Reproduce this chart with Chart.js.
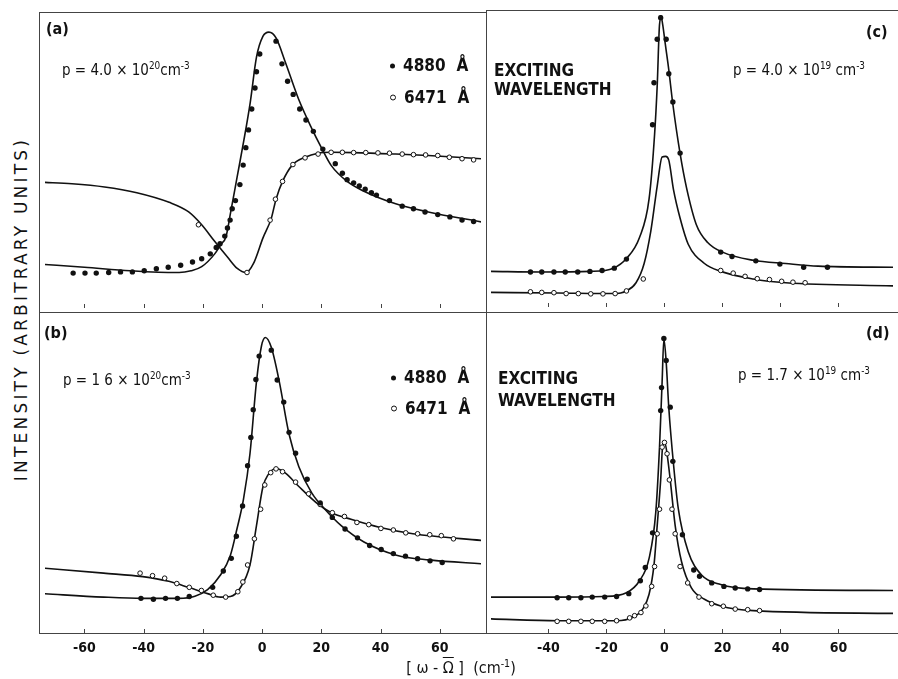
<!DOCTYPE html>
<html>
<head>
<meta charset="utf-8">
<script src="https://cdn.jsdelivr.net/npm/chart.js@4.4.1/dist/chart.umd.min.js"></script>
<style>
  body { margin: 0; background: #fff; }
  #fig { position: relative; width: 898px; height: 679px; overflow: hidden; background: #fff;
         font-family: "DejaVu Sans Condensed", "DejaVu Sans", sans-serif; color: #111; }
  #fig canvas { position: absolute; }
  .txt { position: absolute; white-space: nowrap; line-height: 1; transform: translateY(-50%); }
  .b { font-weight: bold; }
  .ln { position: absolute; background: #444; }
  sup { font-size: 0.66em; vertical-align: 0.55em; line-height: 0; }
  .dot { display: inline-block; width: 5px; height: 5px; border-radius: 50%; background: #111; vertical-align: middle; margin-right: 8px; }
  .odot { display: inline-block; width: 4px; height: 4px; border-radius: 50%; border: 1px solid #111; background: #fff; vertical-align: middle; margin-right: 8px; }
  .ang { margin-left: 11px; }
</style>
</head>
<body>
<div id="fig">
  <canvas id="chartA" width="446" height="301" style="left:40px;top:12px"></canvas>
  <canvas id="chartC" width="412" height="302" style="left:486px;top:10px"></canvas>
  <canvas id="chartB" width="446" height="365" style="left:40px;top:313px"></canvas>
  <canvas id="chartD" width="412" height="365" style="left:486px;top:313px"></canvas>

  <!-- panel frame -->
  <div class="ln" style="left:39px;top:12px;width:1px;height:622px"></div>
  <div class="ln" style="left:40px;top:12px;width:446px;height:1px"></div>
  <div class="ln" style="left:486px;top:10px;width:412px;height:1px"></div>
  <div class="ln" style="left:486px;top:10px;width:1px;height:624px"></div>
  <div class="ln" style="left:40px;top:312px;width:858px;height:1px"></div>
  <div class="ln" style="left:40px;top:633px;width:858px;height:1px"></div>

  <!-- panel (a) -->
  <div class="txt b" style="left:46px;top:29px;font-size:16px">(a)</div>
  <div class="txt" style="left:62px;top:70px;font-size:15px">p = 4.0 × 10<sup>20</sup>cm<sup>-3</sup></div>
  <div class="txt b" style="left:390px;top:65px;font-size:17px"><span class="dot"></span>4880<span class="ang">Å</span></div>
  <div class="txt b" style="left:390px;top:97px;font-size:17px"><span class="odot"></span>6471<span class="ang">Å</span></div>

  <!-- panel (b) -->
  <div class="txt b" style="left:44px;top:333px;font-size:16px">(b)</div>
  <div class="txt" style="left:63px;top:380px;font-size:15px">p = 1 6 × 10<sup>20</sup>cm<sup>-3</sup></div>
  <div class="txt b" style="left:391px;top:377px;font-size:17px"><span class="dot"></span>4880<span class="ang">Å</span></div>
  <div class="txt b" style="left:391px;top:408px;font-size:17px"><span class="odot"></span>6471<span class="ang">Å</span></div>

  <!-- panel (c) -->
  <div class="txt b" style="left:866px;top:32px;font-size:16px">(c)</div>
  <div class="txt" style="left:733px;top:70px;font-size:15px">p = 4.0 × 10<sup>19</sup> cm<sup>-3</sup></div>
  <div class="txt b" style="left:494px;top:70px;font-size:17px">EXCITING</div>
  <div class="txt b" style="left:494px;top:89px;font-size:17px">WAVELENGTH</div>

  <!-- panel (d) -->
  <div class="txt b" style="left:866px;top:333px;font-size:16px">(d)</div>
  <div class="txt" style="left:738px;top:375px;font-size:15px">p = 1.7 × 10<sup>19</sup> cm<sup>-3</sup></div>
  <div class="txt b" style="left:498px;top:378px;font-size:17px">EXCITING</div>
  <div class="txt b" style="left:498px;top:400px;font-size:17px">WAVELENGTH</div>

  <!-- axis titles -->
  <div class="txt" style="left:461px;top:668px;font-size:16px;transform:translate(-50%,-50%)">[ ω - <span style="text-decoration:overline">Ω</span> ]&nbsp; (cm<sup>-1</sup>)</div>
  <div class="txt" style="left:21px;top:309px;font-size:17px;font-family:'DejaVu Sans',sans-serif;letter-spacing:3.2px;transform:translate(-50%,-50%) rotate(-90deg)">INTENSITY (ARBITRARY UNITS)</div>
</div>

<script>
// x ticks for the two columns
const leftTicks = [-60, -40, -20, 0, 20, 40, 60];
const rightTicks = [-40, -20, 0, 20, 40, 60];

// ---- panel (a): p = 4.0e20 ----
const aCurve4880 = [[-74,15.0],[-60,14.0],[-44.5,12.8],[-35,12.3],[-28,12.2],[-24,12.8],[-20.4,14.2],[-16,18.6],[-13.9,21.9],[-12.2,24.5],[-10.6,33],[-8.4,45.2],[-6.2,57.4],[-4,70.7],[-1.9,86.2],[0.3,93.4],[2.3,94.8],[4.7,92.8],[8,84],[12.3,71.8],[16.7,61.8],[20,55.1],[23.3,49],[28.7,43.5],[34.2,40.2],[45.1,35.8],[56.1,33],[75,29.4]];
const aDots4880 = [[-63.8,12.0],[-59.8,12.0],[-56.0,12.0],[-51.8,12.2],[-47.8,12.4],[-43.8,12.4],[-39.8,12.8],[-35.7,13.5],[-31.7,14.0],[-27.5,14.7],[-23.5,15.8],[-20.4,16.9],[-17.5,18.6],[-15.5,20.8],[-14.2,22.1],[-12.6,24.7],[-11.7,27.5],[-10.8,30.2],[-10.1,34.1],[-9.0,36.9],[-7.5,42.4],[-6.4,49.1],[-5.5,55.1],[-4.6,61.2],[-3.5,68.4],[-2.4,75.6],[-1.9,81.2],[-0.8,87.3],[4.7,91.7],[6.7,83.9],[8.6,77.9],[10.5,73.4],[12.7,68.4],[14.8,64.6],[17.3,60.7],[20.5,54.6],[24.7,49.6],[27.1,46.3],[28.7,44.1],[30.9,43.0],[32.8,41.9],[34.8,40.8],[36.9,39.6],[38.6,38.8],[43.0,36.9],[47.3,35.0],[51.1,34.1],[55.0,33.0],[59.3,32.1],[63.4,31.3],[67.5,30.2],[71.4,29.7]];
const aCurve6471 = [[-74,43.2],[-64.2,42.7],[-53.2,41.6],[-42.3,39.6],[-31.4,36.3],[-24.8,33.0],[-20.4,28.6],[-16.1,23.0],[-11.7,17.5],[-8.4,13.6],[-5.4,12.2],[-2.9,15.3],[0.3,24.1],[3.1,30.8],[4.7,37.4],[6.9,43.5],[10.2,49.1],[14.5,51.8],[18.9,53.2],[23.3,53.5],[30.9,53.4],[45.1,52.9],[56.1,52.4],[75,51.2]];
const aDots6471 = [[-21.5,28.6],[-5.1,12.2],[2.7,30.2],[4.5,37.4],[6.9,43.5],[10.4,49.3],[14.5,51.6],[18.9,52.9],[23.3,53.5],[27.1,53.5],[30.9,53.4],[35.0,53.4],[39.1,53.3],[43.0,53.2],[47.3,52.9],[51.1,52.7],[55.2,52.6],[59.3,52.4],[63.2,51.8],[67.5,51.3],[71.4,50.9]];

// ---- panel (b): p = 1.6e20 ----
const bCurve4880 = [[-74,12.5],[-53.5,11.4],[-40.3,11.0],[-28.2,11.0],[-22.7,11.7],[-18.4,13.8],[-14.0,18.5],[-10.7,24.7],[-8.5,33.0],[-6.3,42.4],[-4.1,56.9],[-1.9,79.8],[-0.2,91.2],[1.1,93.8],[3.1,90.7],[5.8,79.8],[9.1,63.1],[12.4,52.8],[16.8,44.4],[21.2,39.3],[26.7,34.1],[34.4,28.9],[45.4,24.7],[56.4,23.2],[75,21.9]];
const bDots4880 = [[-40.9,11.0],[-36.7,10.7],[-32.6,11.0],[-28.6,11.0],[-24.6,11.6],[-16.7,14.5],[-13.1,19.7],[-10.4,23.7],[-8.7,30.7],[-6.6,40.3],[-4.9,53.1],[-3.8,62.1],[-3.0,70.9],[-2.1,80.5],[-1.0,87.9],[3.1,89.8],[5.1,80.3],[7.3,73.3],[9.1,63.7],[11.3,57.1],[15.2,48.8],[19.6,41.3],[23.7,36.7],[28.0,33.0],[32.2,30.2],[36.3,27.8],[40.2,26.5],[44.3,25.2],[48.4,24.4],[52.5,23.6],[56.7,22.9],[60.8,22.4]];
const bCurve6471 = [[-74,20.6],[-53.5,19.0],[-40.3,17.9],[-31.5,16.4],[-24.9,14.5],[-18.4,12.5],[-14.0,11.4],[-10.7,11.6],[-7.4,14.3],[-4.1,21.6],[-1.9,34.1],[0.3,46.5],[2.0,50.2],[4.7,52.2],[8.0,50.7],[12.4,46.5],[19.0,40.8],[23.4,38.2],[30.0,36.1],[39.9,33.5],[50.9,31.5],[75,29.3]];
const bDots6471 = [[-41.2,19.0],[-37.0,18.2],[-32.9,17.4],[-28.8,15.7],[-24.6,14.5],[-20.5,13.5],[-16.5,12.0],[-12.3,11.4],[-8.2,13.1],[-6.5,16.2],[-4.9,21.6],[-2.6,29.9],[-0.5,39.3],[0.9,47.0],[2.9,50.9],[4.7,52.1],[6.9,51.2],[11.3,47.9],[15.7,44.2],[19.6,40.8],[23.7,38.2],[27.8,37.0],[32.0,35.1],[36.0,34.4],[40.1,33.2],[44.3,32.7],[48.5,31.8],[52.5,31.5],[56.6,31.2],[60.5,30.9],[64.6,29.9]];

// ---- panel (c): p = 4.0e19 ----
const cCurve4880 = [[-60,12.2],[-42.3,12.0],[-25.4,12.2],[-17.6,13.3],[-13.1,16.6],[-8.6,23.8],[-5.3,37.0],[-3.4,59.1],[-2.5,75.7],[-1.7,96.7],[-1.1,99.1],[-0.6,96.7],[0.3,90],[1.5,81.2],[2.8,70.2],[5.4,52.5],[7.6,40.9],[11.0,28.2],[14.9,22.1],[20.0,18.8],[30.6,16.0],[41.8,14.9],[53.0,14.0],[80,13.6]];
const cDots4880 = [[-46.2,12.0],[-42.3,12.0],[-38.1,12.0],[-34.2,12.0],[-29.9,12.0],[-25.7,12.2],[-21.5,12.5],[-17.3,13.3],[-13.1,16.4],[-4.1,62.4],[-3.6,76.8],[-2.5,91.7],[-1.3,99.1],[0.6,91.7],[1.5,79.9],[2.9,70.2],[5.4,52.7],[19.4,18.8],[23.3,17.3],[31.5,15.8],[39.8,14.7],[48.0,13.6],[56.2,13.6]];
const cCurve6471 = [[-60,5.0],[-36.7,4.8],[-17.6,4.6],[-13.1,5.5],[-9.8,8.3],[-7.0,14.9],[-4.7,26.0],[-2.5,41.4],[-0.8,51.4],[0.4,51.6],[1.5,50.3],[3.1,40.3],[5.4,30.4],[8.2,21.5],[13.8,14.9],[19.4,12.2],[30.6,9.6],[41.8,8.3],[80,7.2]];
const cDots6471 = [[-46.2,5.2],[-42.3,5.0],[-38.1,4.9],[-33.9,4.6],[-29.7,4.6],[-25.4,4.5],[-21.2,4.5],[-17.0,4.6],[-13.1,5.5],[-7.3,9.6],[19.4,12.5],[23.7,11.6],[27.8,10.5],[32.0,9.7],[36.2,9.4],[40.4,8.8],[44.3,8.5],[48.5,8.3]];

// ---- panel (d): p = 1.7e19 ----
const dCurve4880 = [[-60,11.4],[-36.7,11.4],[-21.0,11.6],[-13.1,12.8],[-8.6,16.6],[-5.3,23.7],[-3.0,38.2],[-1.7,59.0],[-0.8,79.8],[-0.2,93.3],[0.6,86.0],[1.5,71.5],[3.1,53.8],[4.8,39.3],[8.2,25.8],[12.7,18.5],[19.4,15.4],[30.6,14.0],[80,13.5]];
const dDots4880 = [[-37.0,11.2],[-33.0,11.2],[-28.8,11.2],[-24.9,11.4],[-20.6,11.4],[-16.5,11.6],[-12.3,12.5],[-8.3,16.6],[-6.6,20.8],[-4.1,31.8],[-1.3,70.6],[-1.0,77.9],[-0.2,93.5],[0.6,86.5],[2.0,71.7],[2.9,54.5],[6.2,31.2],[10.1,20.0],[12.1,18.0],[16.3,15.9],[20.5,14.8],[24.4,14.3],[28.7,14.0],[32.8,13.8]];
const dCurve6471 = [[-60,4.5],[-36.7,3.9],[-16.5,3.9],[-10.9,5.0],[-7.5,7.6],[-5.3,12.3],[-3.6,21.6],[-2.5,34.1],[-1.3,48.6],[-0.6,59.5],[0.1,60.5],[0.9,56.9],[2.0,48.6],[3.7,34.1],[5.9,22.6],[9.3,14.3],[13.8,10.7],[19.4,8.6],[30.6,7.1],[80,6.2]];
const dDots6471 = [[-37.0,3.7],[-33.0,3.7],[-28.8,3.7],[-24.9,3.7],[-20.6,3.7],[-16.5,3.9],[-12.0,4.8],[-10.3,5.5],[-8.1,6.5],[-6.4,8.6],[-4.4,14.8],[-3.4,21.1],[-2.5,31.5],[-1.7,39.3],[-0.8,59.0],[0.0,60.5],[0.9,56.9],[1.7,48.6],[2.6,39.3],[3.7,31.5],[5.4,21.1],[8.0,15.9],[11.9,11.4],[16.3,9.3],[20.3,8.5],[24.4,7.6],[28.7,7.4],[32.8,7.1]];

const ink = '#111';
const fontFamily = '"DejaVu Sans Condensed", "DejaVu Sans", sans-serif';

function toXY(arr) {
  return arr.map(p => ({ x: p[0], y: p[1] }));
}

// small inward tick marks on the bottom edge of each panel
const innerTicks = {
  id: 'innerTicks',
  afterDatasetsDraw(chart, args, opts) {
    const { ctx, chartArea, scales } = chart;
    ctx.save();
    ctx.strokeStyle = '#444';
    ctx.lineWidth = 1;
    (opts.values || []).forEach(v => {
      const x = Math.round(scales.x.getPixelForValue(v)) + 0.5;
      ctx.beginPath();
      ctx.moveTo(x, chartArea.bottom);
      ctx.lineTo(x, chartArea.bottom - 4);
      ctx.stroke();
    });
    ctx.restore();
  }
};

function makePanel(id, xMin, xMax, ticks, showAxis, curve4880, dots4880, curve6471, dots6471) {
  return new Chart(document.getElementById(id), {
    type: 'scatter',
    data: {
      datasets: [
        { label: '4880 Å', data: toXY(dots4880), showLine: false, pointRadius: 2.7,
          pointBackgroundColor: ink, pointBorderColor: ink, pointBorderWidth: 0 },
        { label: '6471 Å', data: toXY(dots6471), showLine: false, pointRadius: 2.3,
          pointBackgroundColor: '#fff', pointBorderColor: ink, pointBorderWidth: 1 },
        { label: 'fit 4880', data: toXY(curve4880), showLine: true, pointRadius: 0,
          borderColor: ink, borderWidth: 1.6, cubicInterpolationMode: 'monotone' },
        { label: 'fit 6471', data: toXY(curve6471), showLine: true, pointRadius: 0,
          borderColor: ink, borderWidth: 1.6, cubicInterpolationMode: 'monotone' }
      ]
    },
    options: {
      responsive: false,
      animation: false,
      layout: { padding: 0 },
      plugins: {
        legend: { display: false },
        tooltip: { enabled: false },
        innerTicks: { values: ticks }
      },
      scales: {
        x: {
          type: 'linear', min: xMin, max: xMax, display: showAxis,
          grid: { display: false, drawTicks: false },
          border: { display: false },
          afterBuildTicks: axis => { axis.ticks = ticks.map(v => ({ value: v })); },
          afterFit: axis => { if (showAxis) axis.height = 45; },
          ticks: { color: ink, padding: 7, maxRotation: 0, autoSkip: false,
                   font: { family: fontFamily, size: 14, weight: 'bold' } }
        },
        y: { min: 0, max: 100, display: false }
      }
    },
    plugins: [innerTicks]
  });
}

makePanel('chartA', -73.3, 73.9, leftTicks, false, aCurve4880, aDots4880, aCurve6471, aDots6471);
makePanel('chartB', -73.3, 73.9, leftTicks, true, bCurve4880, bDots4880, bCurve6471, bDots6471);
makePanel('chartC', -59.8, 78.8, rightTicks, false, cCurve4880, cDots4880, cCurve6471, cDots6471);
makePanel('chartD', -59.8, 78.8, rightTicks, true, dCurve4880, dDots4880, dCurve6471, dDots6471);
</script>
</body>
</html>
